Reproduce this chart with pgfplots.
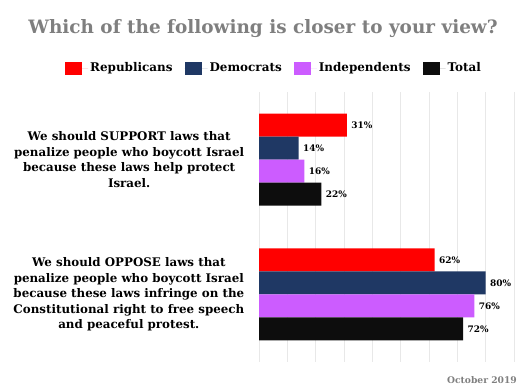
\documentclass[border=0pt]{standalone}
\usepackage{fontspec}
\setmainfont{DejaVu Serif}
\usepackage{pgfplots}
\pgfplotsset{compat=1.18}
\definecolor{rep}{HTML}{FF0000}
\definecolor{dem}{HTML}{1F3864}
\definecolor{ind}{HTML}{CC5CFF}
\definecolor{tot}{HTML}{0D0D0D}
\definecolor{ttl}{HTML}{7F7F7F}
\definecolor{grd}{HTML}{E8E8E8}
\begin{document}
\begin{tikzpicture}
\useasboundingbox (0,0) rectangle (526bp,388bp);
\node[text=ttl, font=\bfseries\fontsize{18.5}{20}\selectfont] at (263bp,359bp) {Which of the following is closer to your view?};
\node[text=ttl, font=\bfseries\fontsize{9.2}{10}\selectfont, anchor=east, inner sep=0pt] at (517bp,8bp) {October 2019};
\begin{axis}[
  at={(259bp,26.3bp)}, anchor=south west,
  scale only axis, width=255bp, height=269.4bp,
  xbar, bar width=23bp,
  y dir=reverse,
  xmin=0, xmax=90, ymin=-0.5, ymax=1.5,
  xtick={0,10,...,90}, xticklabels={},
  xmajorgrids, major grid style={grd, line width=0.8pt},
  ytick={0,1},
  yticklabels={{We should SUPPORT laws that\\penalize people who boycott Israel\\because these laws help protect\\Israel.},
               {We should OPPOSE laws that\\penalize people who boycott Israel\\because these laws infringe on the\\Constitutional right to free speech\\and peaceful protest.}},
  yticklabel style={align=center, font=\bfseries\fontsize{11.9}{15.5}\selectfont, xshift=-7bp},
  axis line style={draw=none},
  tick style={draw=none},
  nodes near coords={\pgfmathprintnumber{\pgfplotspointmeta}\%},
  nodes near coords style={font=\bfseries\fontsize{9}{10}\selectfont, /pgf/number format/assume math mode=true, xshift=1bp},
  legend style={at={(-0.761,1.09)}, anchor=west, draw=none, fill=none, legend columns=4, inner sep=0pt,
    font=\bfseries\fontsize{12}{14}\selectfont,
    /tikz/every even column/.append style={column sep=10bp}},
  legend image code/.code={\fill[#1] (0bp,-6.5bp) rectangle (17bp,6.5bp); \path (0bp,0bp) -- (23bp,0bp);},
  clip=false,
]
\addplot[fill=rep, draw=none, bar shift=34.5bp] coordinates {(31,0) (62,1)};
\addplot[fill=dem, draw=none, bar shift=11.5bp] coordinates {(14,0) (80,1)};
\addplot[fill=ind, draw=none, bar shift=-11.5bp] coordinates {(16,0) (76,1)};
\addplot[fill=tot, draw=none, bar shift=-34.5bp] coordinates {(22,0) (72,1)};
\legend{Republicans, Democrats, Independents, Total}
\end{axis}
\end{tikzpicture}
\end{document}
